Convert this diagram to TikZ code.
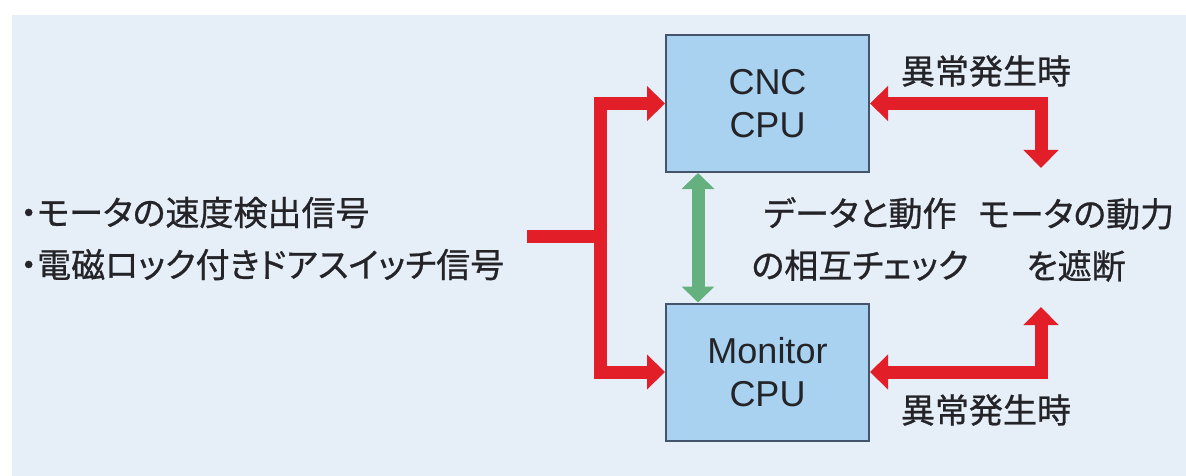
\documentclass[tikz,border=0pt]{standalone}
\usepackage{fontspec}
\setmainfont{Liberation Sans}
\newfontfamily\jp[RawFeature=+palt, FakeBold=0.8]{Noto Sans CJK JP}
\usetikzlibrary{arrows.meta}
\definecolor{bgc}{RGB}{230,239,248}
\definecolor{boxfill}{RGB}{168,210,240}
\definecolor{boxline}{RGB}{68,84,106}
\definecolor{redc}{RGB}{226,30,40}
\definecolor{greenc}{RGB}{100,176,126}
\definecolor{txt}{RGB}{36,36,40}
\tikzset{
  cpubox/.style={draw=boxline, line width=2pt, fill=boxfill, minimum width=203pt, minimum height=137pt, inner sep=0pt, align=center, text=txt, font=\fontsize{36}{43}\selectfont},
  jtext/.style={text=txt, inner sep=0pt, font=\jp\fontsize{34}{52}\selectfont},
  redline/.style={draw=redc, line width=13pt, line join=miter},
  redtip/.style={redline, {Triangle[length=18pt,width=34pt]}-{Triangle[length=18pt,width=34pt]}},
  greentip/.style={draw=greenc, line width=13pt, {Triangle[length=16pt,width=32pt]}-{Triangle[length=16pt,width=32pt]}}
}
\begin{document}
\begin{tikzpicture}[x=1pt,y=-1pt]
\useasboundingbox (0,0) rectangle (1186,476);
\fill[white] (0,0) rectangle (1186,476);
\fill[bgc] (12,15) rectangle (1186,476);

\node[cpubox] (cnc) at (767.5,103.5) {CNC\\CPU};
\node[cpubox] (mon) at (767.5,372) {Monitor\\CPU};

\coordinate (inL) at (527,236);
\coordinate (bx) at (600,236);
\coordinate (gx) at (698,0);
\coordinate (rt1) at (1041,168);
\coordinate (rt2) at (1041,307);

\draw[redline] (inL) -- (bx);
\draw[redtip] (cnc.west) -- (cnc.west -| bx) -- (mon.west -| bx) -- (mon.west);
\draw[redtip] (cnc.east) -| (rt1);
\draw[redtip] (mon.east) -| (rt2);
\draw[greentip] (cnc.south -| gx) -- (mon.north -| gx);

\node[jtext, align=left, anchor=west] (inp) at (20,238.5) {・モータの速度検出信号\\・電磁ロック付きドアスイッチ信号};
\node[jtext] (err1) at (986,71) {異常発生時};
\node[jtext] (err2) at (986,410) {異常発生時};
\node[jtext, align=center] (chk) at (860,239) {データと動作\\の相互チェック};
\node[jtext, align=center] (cut) at (1076,240) {モータの動力\\を遮断};
\end{tikzpicture}
\end{document}
